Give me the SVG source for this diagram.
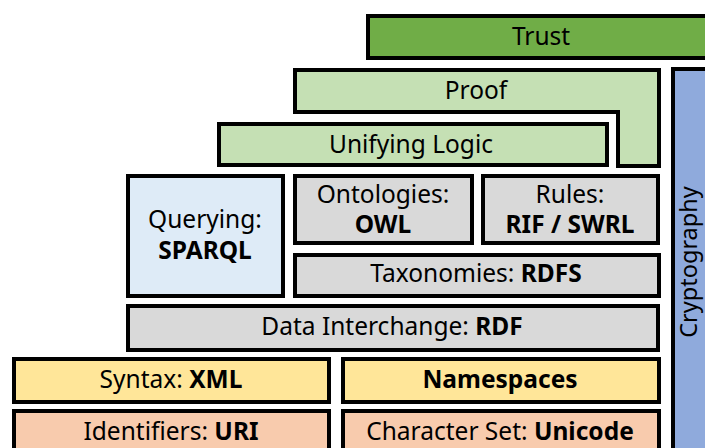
<svg xmlns="http://www.w3.org/2000/svg" width="705" height="448" viewBox="0 0 705 448">
<style>
.b{stroke:#000;stroke-width:4}
.t{font-family:"Noto Sans","Open Sans","Noto Sans CJK KR",sans-serif;font-size:24.5px;fill:#000;text-anchor:middle}
.k{font-weight:bold}
.g{fill:#D9D9D9}.y{fill:#FFE699}.p{fill:#F8CBAD}.l{fill:#C5E0B4}
</style>
<rect width="705" height="448" fill="#fff"/>
<g id="trust"><rect class="b" x="368" y="16" width="345" height="42" fill="#70AD47"/><text class="t" x="541" y="45">Trust</text></g>
<g id="crypto"><rect class="b" x="673" y="69" width="40" height="390" fill="#8FAADC"/><text class="t" style="font-size:23.5px" transform="translate(697,262) rotate(-90)">Cryptography</text></g>
<g id="proof"><path class="b l" d="M295,70 H659 V166 H618 V112 H295 Z"/><text class="t" x="476" y="99">Proof</text></g>
<g id="logic"><rect class="b l" x="219" y="124" width="388" height="41"/><text class="t" x="411" y="153">Unifying Logic</text></g>
<g id="query"><rect class="b" x="128" y="176" width="155" height="120" fill="#DEEBF7"/><text class="t" x="205" y="228">Querying:</text><text class="t k" x="205" y="259">SPARQL</text></g>
<g id="onto"><rect class="b g" x="295" y="176" width="177" height="67"/><text class="t" x="383" y="203">Ontologies:</text><text class="t k" x="383" y="233">OWL</text></g>
<g id="rules"><rect class="b g" x="483" y="176" width="175" height="67"/><text class="t" x="570" y="203">Rules:</text><text class="t k" x="570" y="233">RIF / SWRL</text></g>
<g id="tax"><rect class="b g" x="295" y="255" width="364" height="41"/><text class="t" x="476" y="282">Taxonomies: <tspan class="k">RDFS</tspan></text></g>
<g id="rdf"><rect class="b g" x="128" y="306" width="530" height="44"/><text class="t" x="392" y="335">Data Interchange: <tspan class="k">RDF</tspan></text></g>
<g id="xml"><rect class="b y" x="14" y="359" width="315" height="43"/><text class="t" x="171" y="388">Syntax: <tspan class="k">XML</tspan></text></g>
<g id="ns"><rect class="b y" x="343" y="359" width="316" height="43"/><text class="t k" x="500" y="388">Namespaces</text></g>
<g id="uri"><rect class="b p" x="14" y="411" width="315" height="50"/><text class="t" x="171" y="440">Identifiers: <tspan class="k">URI</tspan></text></g>
<g id="unicode"><rect class="b p" x="343" y="411" width="316" height="50"/><text class="t" x="500" y="440">Character Set: <tspan class="k">Unicode</tspan></text></g>
<g id="connectors"/>
</svg>
